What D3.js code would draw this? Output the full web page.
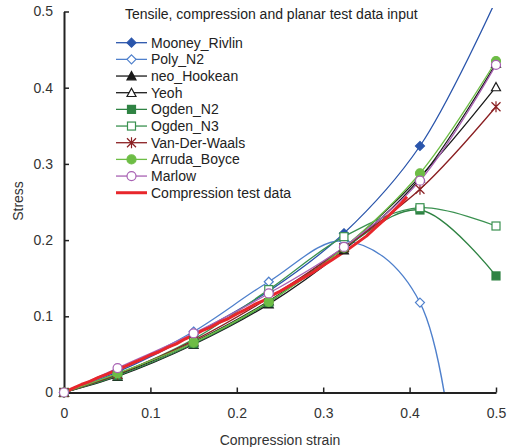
<!DOCTYPE html>
<html>
<head>
<meta charset="utf-8">
<script src="https://cdn.jsdelivr.net/npm/d3@7"></script>
<style>
  body { margin: 0; background: #fff; }
  svg { display: block; font-family: "Liberation Sans", Arial, sans-serif; }
</style>
</head>
<body>
<svg id="chart" width="514" height="447"></svg>
<script>
// Strain levels at which each hyperelastic model was evaluated
const strain = [0, 0.062, 0.15, 0.237, 0.324, 0.412, 0.5];

// Model stress predictions
const mooneyRivlin = [0, 0.027, 0.076, 0.133, 0.209, 0.3235, 0.515];
const polyN2       = [0, 0.029, 0.08, 0.1454, 0.199, 0.118, -1.5];
const neoHookean   = [0, 0.021, 0.063, 0.116, 0.187, 0.281, 0.432];
const yeoh         = [0, 0.023, 0.066, 0.12, 0.19, 0.283, 0.401];
const ogdenN2      = [0, 0.022, 0.064, 0.118, 0.19, 0.2395, 0.153];
const ogdenN3      = [0, 0.024, 0.07, 0.135, 0.2045, 0.2425, 0.2185];
const vanDerWaals  = [0, 0.024, 0.068, 0.124, 0.19, 0.2667, 0.375];
const arrudaBoyce  = [0, 0.025, 0.0654, 0.119, 0.19, 0.2877, 0.435];
const marlow       = [0, 0.032, 0.0777, 0.13, 0.191, 0.278, 0.43];

// Measured compression test curve
const testStrain = [0, 0.01, 0.02, 0.03, 0.04, 0.05, 0.06, 0.07, 0.08, 0.09, 0.10,
  0.11, 0.12, 0.13, 0.14, 0.15, 0.16, 0.17, 0.18, 0.19, 0.20,
  0.21, 0.22, 0.23, 0.24, 0.25, 0.26, 0.27, 0.28, 0.29, 0.30,
  0.31, 0.32, 0.33, 0.34, 0.35, 0.36, 0.37, 0.38, 0.39, 0.397];
const testStress = [0, 0.0055, 0.0105, 0.0145, 0.0198, 0.024, 0.0292, 0.0338, 0.039, 0.0438, 0.0492,
  0.0535, 0.0592, 0.0638, 0.0702, 0.0752, 0.0812, 0.0858, 0.0922, 0.0968, 0.1032,
  0.1088, 0.1152, 0.1202, 0.1272, 0.1328, 0.1392, 0.1458, 0.1522, 0.159, 0.1668,
  0.1738, 0.1815, 0.1888, 0.197, 0.2052, 0.2158, 0.2258, 0.2368, 0.2478, 0.257];

const xTicks = [0, 0.1, 0.2, 0.3, 0.4, 0.5];
const yTicks = [0, 0.1, 0.2, 0.3, 0.4, 0.5];

const seriesNames = ["Mooney_Rivlin", "Poly_N2", "neo_Hookean", "Yeoh", "Ogden_N2",
  "Ogden_N3", "Van-Der-Waals", "Arruda_Boyce", "Marlow"];
const seriesValues = [mooneyRivlin, polyN2, neoHookean, yeoh, ogdenN2,
  ogdenN3, vanDerWaals, arrudaBoyce, marlow];
const seriesColors = ["#2a55ab", "#4f80cc", "#1a1a1a", "#1a1a1a", "#2f8343",
  "#3a9150", "#8a1f22", "#6dbd45", "#a862b3"];
const seriesMarkers = ["diamondFilled", "diamondOpen", "triangleFilled", "triangleOpen",
  "squareFilled", "squareOpen", "star", "circleFilled", "circleOpen"];
const testName = "Compression test data";
const testColor = "#e8262b";

const fontSize = 14;
const svg = d3.select("#chart");
const x = d3.scaleLinear().domain([0, 0.5]).range([64, 496]);
const y = d3.scaleLinear().domain([0, 0.5]).range([392.5, 11.5]);

const defs = svg.append("defs");
defs.append("clipPath").attr("id", "lineClip").append("rect")
  .attr("x", x(0)).attr("y", y(0.5) - 3.5)
  .attr("width", 514 - x(0)).attr("height", y(0) - y(0.5) + 3.5);
defs.append("clipPath").attr("id", "markerClip").append("rect")
  .attr("x", 0).attr("y", y(0.5) - 3.5)
  .attr("width", 514).attr("height", 447);

// Marker painter
function drawMarker(g, type, color, cx, cy) {
  const s = 4.5;
  if (type.startsWith("diamond")) {
    g.append("path")
      .attr("d", `M${cx},${cy - s}L${cx + s},${cy}L${cx},${cy + s}L${cx - s},${cy}Z`)
      .attr("fill", type === "diamondFilled" ? color : "#fff")
      .attr("stroke", color).attr("stroke-width", 1.2);
  } else if (type.startsWith("triangle")) {
    g.append("path")
      .attr("d", `M${cx},${cy - 4.5}L${cx + 4.5},${cy + 3.8}L${cx - 4.5},${cy + 3.8}Z`)
      .attr("fill", type === "triangleFilled" ? color : "#fff")
      .attr("stroke", color).attr("stroke-width", 1.2);
  } else if (type.startsWith("square")) {
    g.append("rect")
      .attr("x", cx - 4).attr("y", cy - 4).attr("width", 8).attr("height", 8)
      .attr("fill", type === "squareFilled" ? color : "#fff")
      .attr("stroke", color).attr("stroke-width", 1.2);
  } else if (type === "star") {
    const r = 4.5;
    g.append("path")
      .attr("d", `M${cx - r},${cy - r}L${cx + r},${cy + r}M${cx - r},${cy + r}L${cx + r},${cy - r}M${cx},${cy - r - 1}L${cx},${cy + r + 1}`)
      .attr("fill", "none").attr("stroke", color).attr("stroke-width", 1.2);
  } else if (type.startsWith("circle")) {
    g.append("circle")
      .attr("cx", cx).attr("cy", cy).attr("r", 4.5)
      .attr("fill", type === "circleFilled" ? color : "#fff")
      .attr("stroke", color).attr("stroke-width", 1.2);
  }
}

const line = d3.line()
  .x(d => x(d[0])).y(d => y(d[1]))
  .curve(d3.curveCatmullRom.alpha(0.5));

// Model curves
const lineLayer = svg.append("g").attr("clip-path", "url(#lineClip)");
seriesValues.forEach((vals, i) => {
  lineLayer.append("path")
    .datum(strain.map((s, k) => [s, vals[k]]))
    .attr("d", line)
    .attr("fill", "none")
    .attr("stroke", seriesColors[i])
    .attr("stroke-width", 1.3);
});

// Test data curve
lineLayer.append("path")
  .datum(testStrain.map((s, k) => [s, testStress[k]]))
  .attr("d", d3.line().x(d => x(d[0])).y(d => y(d[1])))
  .attr("fill", "none")
  .attr("stroke", testColor)
  .attr("stroke-width", 3)
  .attr("stroke-linejoin", "round");

// Axes
const axisColor = "#222";
const xAxis = svg.append("g").attr("transform", `translate(0,${y(0)})`)
  .call(d3.axisBottom(x).tickValues(xTicks).tickSizeInner(-5).tickSizeOuter(0)
    .tickFormat(d => d === 0 ? "0" : d3.format(".1f")(d)));
xAxis.select(".domain").attr("stroke", axisColor).attr("stroke-width", 2);
xAxis.selectAll(".tick line").attr("stroke", axisColor).attr("stroke-width", 1.5);
xAxis.selectAll(".tick text").attr("y", 16).attr("font-size", fontSize)
  .attr("fill", "#333").attr("font-family", "Liberation Sans, Arial, sans-serif");

const yAxis = svg.append("g").attr("transform", `translate(${x(0)},0)`)
  .call(d3.axisLeft(y).tickValues(yTicks).tickSizeInner(-5).tickSizeOuter(0)
    .tickFormat(d => d === 0 ? "0" : d3.format(".1f")(d)));
yAxis.select(".domain").attr("stroke", axisColor).attr("stroke-width", 2);
yAxis.selectAll(".tick line").attr("stroke", axisColor).attr("stroke-width", 1.5);
yAxis.selectAll(".tick text").attr("x", -11).attr("font-size", fontSize)
  .attr("fill", "#333").attr("font-family", "Liberation Sans, Arial, sans-serif");

// Markers on top
const markerLayer = svg.append("g").attr("clip-path", "url(#markerClip)");
seriesValues.forEach((vals, i) => {
  strain.forEach((s, k) => {
    if (vals[k] < 0) return;
    drawMarker(markerLayer, seriesMarkers[i], seriesColors[i], x(s), y(vals[k]));
  });
});

// Axis titles
svg.append("text").attr("x", 280).attr("y", 444.5).attr("text-anchor", "middle")
  .attr("font-size", fontSize).attr("fill", "#333").text("Compression strain");
svg.append("text").attr("transform", "translate(23,201) rotate(-90)")
  .attr("text-anchor", "middle").attr("font-size", fontSize).attr("fill", "#333").text("Stress");

// Legend
const legend = svg.append("g");
legend.append("text").attr("x", 125).attr("y", 18.5)
  .attr("font-size", fontSize).attr("fill", "#222")
  .text("Tensile, compression and planar test data input");
const rowY = d3.range(seriesNames.length + 1).map(i => 42.7 + i * 16.67);
seriesNames.forEach((name, i) => {
  const cy = rowY[i];
  legend.append("line").attr("x1", 116).attr("x2", 147).attr("y1", cy).attr("y2", cy)
    .attr("stroke", seriesColors[i]).attr("stroke-width", 1.3);
  drawMarker(legend, seriesMarkers[i], seriesColors[i], 131.5, cy);
  legend.append("text").attr("x", 151).attr("y", cy + 5)
    .attr("font-size", fontSize).attr("fill", "#222").text(name);
});
{
  const cy = rowY[seriesNames.length];
  legend.append("line").attr("x1", 116).attr("x2", 147).attr("y1", cy).attr("y2", cy)
    .attr("stroke", testColor).attr("stroke-width", 3);
  legend.append("text").attr("x", 151).attr("y", cy + 5)
    .attr("font-size", fontSize).attr("fill", "#222").text(testName);
}
</script>
</body>
</html>
